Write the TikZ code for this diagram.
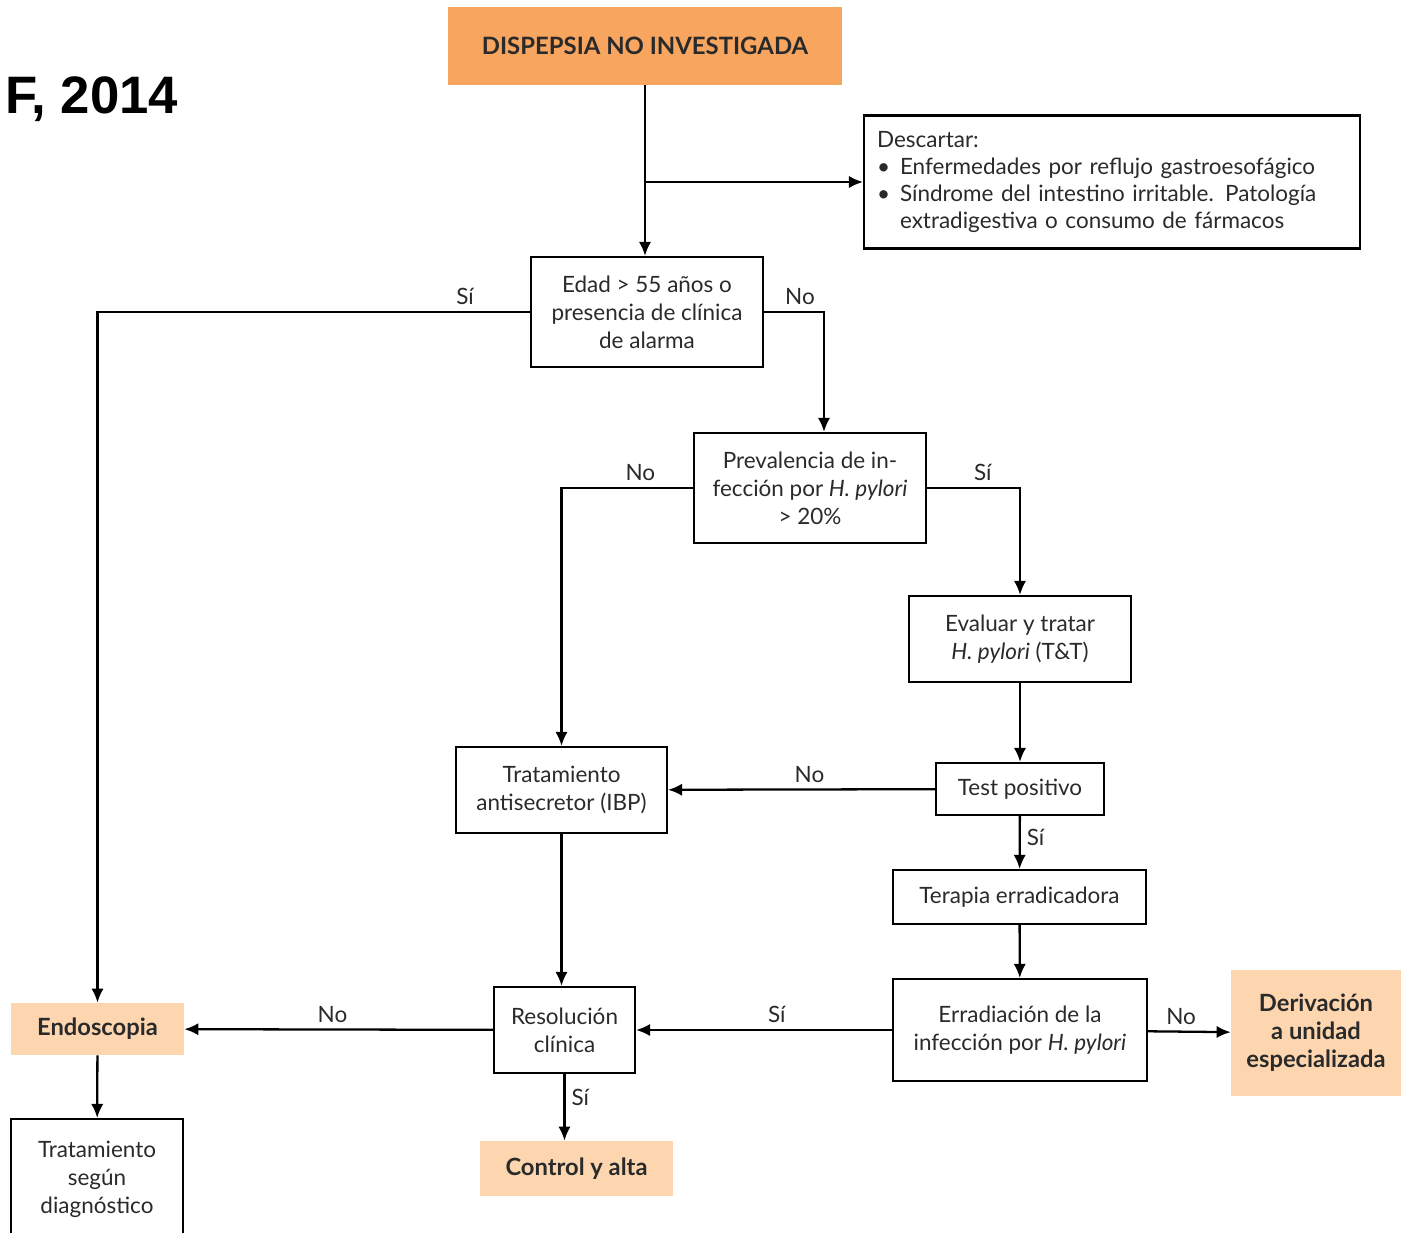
\documentclass[tikz,border=0pt]{standalone}
\usepackage{fontspec}
\setmainfont{Lato}
\newfontfamily\titlefont{Liberation Sans}
\usepackage{tikz}
\usetikzlibrary{shapes,arrows,arrows.meta}
\definecolor{darkorange}{HTML}{F7A55F}
\definecolor{lightorange}{HTML}{FDD6AF}
\definecolor{txtgray}{HTML}{2A2A2A}
\tikzstyle{block} = [rectangle, draw, line width=1.2pt, text centered, align=center, inner sep=0pt]
\tikzstyle{hilite} = [rectangle, fill=lightorange, align=center, font=\fontsize{13.5}{16}\selectfont\bfseries, inner sep=0pt]
\tikzstyle{line} = [draw, line width=1.3pt, ->]

\begin{document}
\begin{tikzpicture}[x=0.02cm, y=-0.02cm, >={Latex[length=8pt,width=7pt]}, font=\fontsize{12.8}{16}\selectfont, text=txtgray]
   \useasboundingbox (0,0) rectangle (1401,1233);
   \clip (0,0) rectangle (1401,1233);
   \node[anchor=base west, text=black, font=\titlefont\bfseries\fontsize{30}{30}\selectfont] (year) at (-1,114) {F, 2014};
   \node[rectangle, fill=darkorange, minimum width=7.88cm, minimum height=1.56cm, font=\fontsize{13.6}{16}\selectfont\bfseries] (dni) at (645,46) {DISPEPSIA NO INVESTIGADA};
   \node[block, text width=9.4cm, inner xsep=0.26cm, minimum height=2.66cm, align=left, font=\fontsize{12.8}{15.5}\selectfont] (desc) at (1112,182)
      {Descartar:\\ \makebox[0.46cm][l]{\textbullet}Enfermedades por reflujo gastroesofágico\\ \makebox[0.46cm][l]{\textbullet}Síndrome del intestino irritable. Patología\\ \hspace*{0.46cm}extradigestiva o consumo de fármacos};
   \node[block, minimum width=4.64cm, minimum height=2.2cm] (edad) at (647,312) {Edad > 55 años o\\ presencia de clínica\\ de alarma};
   \node[block, minimum width=4.64cm, minimum height=2.2cm] (prev) at (810,488) {Prevalencia de in-\\ fección por \textit{H. pylori}\\ > 20\%};
   \node[block, minimum width=4.44cm, minimum height=1.72cm] (eval) at (1020,639) {Evaluar y tratar\\ \textit{H. pylori} (T\&T)};
   \node[block, minimum width=3.36cm, minimum height=1.04cm] (test) at (1020,789) {Test positivo};
   \node[block, minimum width=5.06cm, minimum height=1.08cm] (terapia) at (1019.5,897) {Terapia erradicadora};
   \node[block, minimum width=5.08cm, minimum height=2.04cm] (errad) at (1020,1030) {Erradiación de la\\ infección por \textit{H. pylori}};
   \node[hilite, minimum width=3.4cm, minimum height=2.54cm] (deriv) at (1316,1033) {Derivación\\ a unidad\\ especializada};
   \node[block, minimum width=4.22cm, minimum height=1.72cm] (trat) at (561.5,790) {Tratamiento\\ antisecretor (IBP)};
   \node[block, minimum width=2.82cm, minimum height=1.72cm] (resol) at (564.5,1030) {Resolución\\ clínica};
   \node[hilite, minimum width=3.86cm, minimum height=1.1cm] (alta) at (576.5,1168.5) {Control y alta};
   \node[hilite, minimum width=3.46cm, minimum height=1.04cm] (endo) at (97.5,1029) {Endoscopia};
   \node[block, minimum width=3.44cm, minimum height=2.4cm, anchor=north] (segun) at (97,1118) {Tratamiento\\ según\\ diagnóstico};

   \path[line] (dni.south) -- (dni.south |- edad.north);
   \path[line] (dni.south |- desc.west) -- (desc.west);
   \path[line] (edad.west) -| node[pos=0.075, above] {Sí} (endo.north);
   \path[line] (edad.east) -| node[pos=0.3, above] {No} ([xshift=0.28cm]prev.north);
   \path[line] (prev.west) -| node[pos=0.2, above] {No} (trat.north);
   \path[line] (prev.east) -| node[pos=0.3, above] {Sí} (eval.north);
   \path[line] (eval) -- (test);
   \path[line] (test) -- node[pos=0.47, above] {No} (trat);
   \path[line] (test) -- node[pos=0.4, right] {Sí} (terapia);
   \path[line] (terapia) -- (errad);
   \path[line] (errad) -- node[pos=0.45, above] {Sí} (resol);
   \path[line] (errad) -- node[pos=0.4, above] {No} (deriv);
   \path[line] (trat.south) -- (trat.south |- resol.north);
   \path[line] (resol) -- node[pos=0.52, above] {No} (endo);
   \path[line] (resol.south) -- node[pos=0.35, right] {Sí} (resol.south |- alta.north);
   \path[line] (endo) -- (segun);
\end{tikzpicture}
\end{document}
